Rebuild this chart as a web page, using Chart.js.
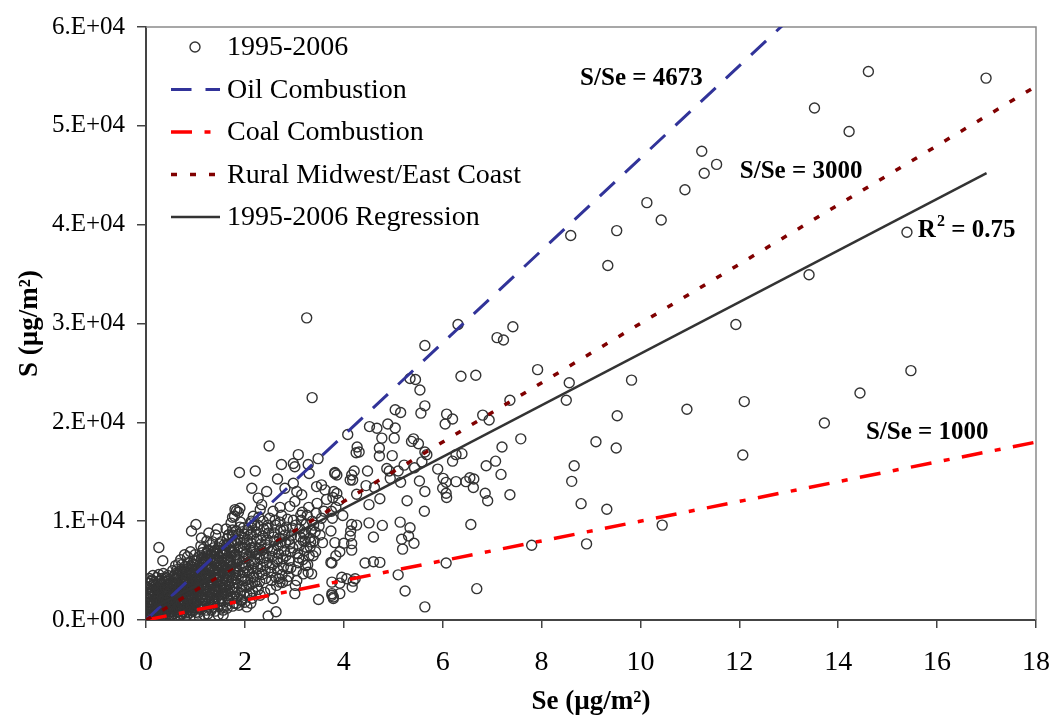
<!DOCTYPE html>
<html>
<head>
<meta charset="utf-8">
<script src="https://cdn.jsdelivr.net/npm/chart.js@4.4.0/dist/chart.umd.min.js"></script>
<style>
  html, body { margin: 0; padding: 0; background: #fff; }
  #wrap { width: 1055px; height: 721px; }
</style>
</head>
<body>
<div id="wrap"><canvas id="chart" width="1055" height="721"></canvas></div>
<script>
// S vs Se deposition, 1995-2006 samples with source ratio lines

const seriesNames = ['1995-2006', 'Oil Combustion', 'Coal Combustion', 'Rural Midwest/East Coast', '1995-2006 Regression'];

// S/Se ratios of the reference sources
const oilRatio = 4673;
const coalRatio = 1000;
const ruralRatio = 3000;

// least squares fit of the samples
const regSlope = 2610;
const regIntercept = 850;
const regRange = [0, 17];
const rSquared = 0.75;

const xTicks = [0, 2, 4, 6, 8, 10, 12, 14, 16, 18];
const yTickLabels = ['0.E+00', '1.E+04', '2.E+04', '3.E+04', '4.E+04', '5.E+04', '6.E+04'];

// dense low end of the sample cloud (Se, S)
const clusterPts = [
  [0.02,150],[0.03,600],[0.05,1100],[0.04,1800],[0.06,2600],[0.03,3300],[0.08,400],[0.1,900],[0.12,1500],[0.09,2100],
  [0.13,3000],[0.11,3900],[0.15,200],[0.17,700],[0.19,1300],[0.16,2400],[0.2,3500],[0.22,4300],[0.24,500],[0.26,1000],
  [0.25,1700],[0.28,2200],[0.27,2900],[0.3,3700],[0.32,4200],[0.33,300],[0.35,800],[0.36,1400],[0.38,1900],[0.37,2600],
  [0.4,3100],[0.42,3900],[0.44,4500],[0.45,600],[0.47,1200],[0.46,1600],[0.48,2100],[0.5,2700],[0.49,3400],[0.07,4200],
  [0.14,4500],[0.02,2200],[0.01,900],[0.18,3200],[0.21,2000],[0.29,1200],[0.31,600],[0.41,2300],[0.43,1000],[0.39,4200],
  [0.12,2700],[0.23,2600],[0.06,3700],
  [0.52,500],[0.55,1000],[0.53,1500],[0.56,2000],[0.54,2500],[0.57,3000],[0.55,3600],[0.58,4100],[0.6,4700],[0.62,800],
  [0.61,1300],[0.64,1800],[0.63,2300],[0.66,2800],[0.65,3300],[0.68,3800],[0.67,4400],[0.7,5000],[0.72,600],[0.71,1100],
  [0.74,1600],[0.73,2100],[0.76,2600],[0.75,3100],[0.78,3600],[0.77,4200],[0.8,4800],[0.79,5400],[0.82,400],[0.84,900],
  [0.83,1400],[0.86,1900],[0.85,2400],[0.88,2900],[0.87,3400],[0.9,3900],[0.89,4500],[0.92,5100],[0.94,5700],[0.91,1000],
  [0.95,1600],[0.93,2200],[0.97,2700],[0.96,3200],[0.99,3700],[0.98,4300],[1.0,4900],[0.99,5500],[0.6,5500],[0.7,6100],
  [0.84,6400],[0.65,300],[0.78,200],[0.88,700],[0.58,2700],[0.69,1900],[0.81,3000],[0.94,3500],[0.62,3500],[0.74,4600],
  [0.86,5200],[0.97,6000],
  [1.02,800],[1.04,1400],[1.03,2000],[1.06,2600],[1.05,3200],[1.08,3800],[1.07,4400],[1.1,5000],[1.09,5600],[1.12,6200],
  [1.14,6800],[1.13,1100],[1.16,1700],[1.15,2300],[1.18,2900],[1.17,3500],[1.2,4100],[1.19,4700],[1.22,5300],[1.21,5900],
  [1.24,6500],[1.26,7100],[1.25,600],[1.28,1300],[1.27,1900],[1.3,2500],[1.29,3100],[1.32,3700],[1.31,4300],[1.34,4900],
  [1.33,5500],[1.36,6100],[1.38,6700],[1.37,7300],[1.4,900],[1.39,1600],[1.42,2200],[1.41,2800],[1.44,3400],[1.43,4000],
  [1.46,4600],[1.45,5200],[1.48,5800],[1.47,6400],[1.5,7000],[1.49,7700],[1.11,7500],[1.23,8000],[1.35,7900],[1.08,300],
  [1.18,500],[1.32,1000],[1.2,2600],[1.06,5300],[1.28,4500],[1.44,6000],[1.15,5800],[1.38,2000],[1.25,3600],[1.02,6000],
  [1.48,3000],
  [1.52,1200],[1.54,1900],[1.53,2600],[1.56,3300],[1.55,4000],[1.58,4700],[1.57,5400],[1.6,6100],[1.59,6800],[1.62,7500],
  [1.64,8200],[1.63,1500],[1.66,2200],[1.65,2900],[1.68,3600],[1.67,4300],[1.7,5000],[1.69,5700],[1.72,6400],[1.71,7100],
  [1.74,7800],[1.76,8500],[1.75,9100],[1.78,1700],[1.77,2400],[1.8,3100],[1.79,3800],[1.82,4500],[1.81,5200],[1.84,5900],
  [1.83,6600],[1.86,7300],[1.85,8000],[1.88,8700],[1.9,9400],[1.92,2000],[1.91,2700],[1.94,3400],[1.93,4100],[1.96,4800],
  [1.95,5500],[1.98,6200],[1.97,6900],[2.0,7600],[1.99,8300],[1.67,8600],[1.56,500],[1.62,9200],[1.72,9800],
  [2.04,2600],[2.03,3300],[2.06,4100],[2.05,4900],[2.08,5600],[2.07,6300],[2.1,7100],[2.12,7800],[2.11,8600],[2.14,9300],
  [2.13,10000],[2.16,2900],[2.15,3700],[2.18,4400],[2.17,5200],[2.2,5900],[2.22,6700],[2.21,7400],[2.24,8200],[2.23,8900],
  [2.26,9600],[2.28,10400],[2.27,3100],[2.3,3900],[2.29,4700],[2.32,5400],[2.31,6200],[2.34,7000],[2.33,7700],[2.36,8500],
  [2.38,9200],[2.37,10000],[2.4,2800],[2.42,4200],[2.41,5000],[2.44,5800],[2.43,6500],[2.46,7300],[2.45,8100],[2.48,8800],
  [2.47,9600],[2.5,10300],
  [2.52,3100],[2.54,4000],[2.53,4800],[2.56,5600],[2.55,6400],[2.58,7200],[2.6,8000],[2.59,8800],[2.62,9600],[2.64,3500],
  [2.63,4300],[2.66,5100],[2.65,5900],[2.68,6700],[2.67,7500],[2.7,8300],[2.72,9100],[2.71,9900],[2.74,10600],[2.76,3800],
  [2.75,4600],[2.78,5400],[2.77,6200],[2.8,7000],[2.82,7800],[2.81,8600],[2.84,9400],[2.86,10200],[2.88,4400],[2.87,5200],
  [2.9,6000],[2.92,6900],[2.91,7700],[2.94,8500],[2.96,9300],[2.98,10100],
  [3.02,3500],[3.04,5000],[3.08,5800],[3.07,6700],[3.1,7500],[3.12,8400],[3.11,9200],[3.14,10100],[3.16,10900],[3.17,6100],
  [3.2,7000],[3.22,8000],[3.21,8800],[3.24,9700],[3.26,10600],[3.27,5600],[3.3,6500],[3.32,7400],[3.31,8300],[3.34,9100],
  [3.36,10000],[3.4,8000],[3.42,8900],[3.44,10800],[3.46,11800],[3.5,9500],[3.6,11000],[3.65,12200],[3.55,10300],
  [3.75,11000],[3.77,10300],[3.74,9000],[3.78,12400],[3.9,12100],[3.86,12800],[3.8,13000],[3.84,11400]
];

// more samples filling the same cloud
const clusterPts2 = [
  [0.04,500],[0.07,1400],[0.09,2900],[0.11,350],[0.14,1150],[0.16,1900],[0.18,2700],[0.2,800],[0.21,1550],[0.23,3050],
  [0.25,3900],[0.27,650],[0.29,1750],[0.3,2500],[0.31,3350],[0.33,1050],[0.34,2050],[0.36,3000],[0.37,3850],[0.39,700],
  [0.4,1450],[0.41,2750],[0.43,3500],[0.45,2300],[0.46,4100],[0.48,850],[0.49,1850],[0.5,3050],[0.03,2650],[0.08,3400],
  [0.12,4050],[0.17,3800],[0.22,2250],[0.26,4600],[0.35,4700],[0.44,1300],[0.47,3700],[0.1,1800],[0.19,900],[0.32,2800],
  [0.51,1250],[0.53,2250],[0.55,3300],[0.56,4400],[0.57,650],[0.59,1600],[0.6,2450],[0.61,3850],[0.63,5100],[0.64,1050],
  [0.66,2050],[0.67,3050],[0.68,4900],[0.7,1450],[0.71,2400],[0.72,3450],[0.73,5600],[0.75,850],[0.76,1850],[0.77,2950],
  [0.79,3900],[0.8,1250],[0.81,2250],[0.82,3500],[0.83,4550],[0.85,5800],[0.86,1500],[0.87,2600],[0.88,3700],[0.9,4800],
  [0.91,2050],[0.92,3000],[0.93,4050],[0.95,5300],[0.96,1250],[0.97,2350],[0.98,3400],[1.0,4500],[0.54,5000],[0.66,5700],
  [0.78,6600],[0.9,6900],[0.99,6600],[0.58,300],[0.69,450],[0.8,700],[0.95,900],[0.62,4300],[0.74,3300],[0.89,1700],
  [1.01,1700],[1.03,2800],[1.04,3900],[1.06,4900],[1.07,6400],[1.09,1100],[1.1,2300],[1.11,3400],[1.13,4500],[1.14,5600],
  [1.16,7200],[1.17,1400],[1.19,2100],[1.21,3200],[1.22,4300],[1.23,6800],[1.25,2300],[1.26,4000],[1.27,5100],[1.29,6200],
  [1.3,7600],[1.31,1600],[1.33,2800],[1.34,3900],[1.36,5000],[1.37,5800],[1.39,7000],[1.4,3100],[1.42,4300],[1.43,5500],
  [1.45,6700],[1.46,2500],[1.48,3800],[1.49,5000],[1.51,6300],[1.52,7900],[1.53,2200],[1.55,3600],[1.56,4900],[1.58,6000],
  [1.59,7200],[1.12,8300],[1.27,8800],[1.44,9200],[1.05,700],[1.22,1000],[1.35,1300],[1.5,1600],[1.19,6000],[1.41,4700],
  [1.61,2700],[1.62,4000],[1.63,5100],[1.65,6300],[1.66,7700],[1.68,2000],[1.69,3300],[1.7,4600],[1.72,5800],[1.73,7000],
  [1.74,8600],[1.76,2800],[1.77,4100],[1.78,5300],[1.8,6600],[1.81,7800],[1.82,9000],[1.84,2300],[1.85,3700],[1.86,4900],
  [1.87,6100],[1.89,7400],[1.9,8100],[1.91,9900],[1.93,3000],[1.94,4400],[1.95,5800],[1.97,7300],[1.98,8700],[1.99,2500],
  [2.01,4000],[2.02,5300],[2.03,6700],[2.05,8100],[2.06,9100],[2.08,3500],[2.09,4800],[2.11,6000],[2.12,7300],[2.13,8700],
  [2.15,2200],[2.16,4300],[2.18,5700],[2.19,7100],[2.2,9600],[1.64,1200],[1.75,1400],[1.88,1500],[2.0,1800],[2.12,1700],
  [2.24,3400],[2.26,5200],[2.29,6600],[2.32,8100],[2.35,4600],[2.39,6300],[2.42,7600],[2.45,9300],[2.51,5300],[2.55,7000],
  [2.58,8400],[2.61,10100],[2.66,6200],[2.69,4200],[2.73,7900],[2.79,9100],[2.83,6500],[2.89,8100],[2.93,5300],[2.97,7300],
  [3.03,9600],[3.09,6300],[3.13,10600],[3.19,8700],[3.23,5500],[3.29,11400],[3.33,7900],[3.39,9600],[3.43,6900],[3.52,8600]
];

// densest part of the cloud, Se below 2
const clusterPts3 = [
  [0.05,300],[0.06,1350],[0.08,2400],[0.1,3100],[0.13,650],[0.15,1650],[0.16,3550],[0.18,1100],[0.2,2200],[0.22,950],
  [0.24,2400],[0.24,3300],[0.27,1450],[0.28,4000],[0.3,900],[0.31,1900],[0.33,2400],[0.34,3600],[0.36,500],[0.38,1200],
  [0.39,3300],[0.41,1800],[0.42,4300],[0.44,2600],[0.45,3200],[0.47,450],[0.49,1400],[0.5,2250],[0.52,3800],[0.53,900],
  [0.55,1800],[0.57,2600],[0.58,3500],[0.6,1000],[0.61,2000],[0.63,2800],[0.64,4600],[0.66,1300],[0.67,2400],[0.69,3400],
  [0.7,4200],[0.72,1700],[0.73,2900],[0.75,3800],[0.76,5000],[0.78,1100],[0.79,2300],[0.8,3300],[0.82,4200],[0.83,5200],
  [0.85,1200],[0.86,2200],[0.88,3200],[0.89,4100],[0.91,5400],[0.92,1400],[0.94,2500],[0.95,3700],[0.97,4700],[0.98,1900],
  [1.0,3000],[1.01,4000],[1.03,5100],[1.04,6200],[1.06,1900],[1.07,3000],[1.09,4100],[1.1,5300],[1.12,1600],[1.13,2600],
  [1.15,3700],[1.16,4900],[1.18,6300],[1.19,3300],[1.21,2000],[1.22,4500],[1.24,5600],[1.25,7000],[1.27,2800],[1.28,3800],
  [1.3,5200],[1.31,6600],[1.33,2100],[1.34,3300],[1.36,4300],[1.37,6900],[1.39,2600],[1.4,5000],[1.42,6200],[1.43,3000],
  [1.45,4100],[1.46,7300],[1.48,2000],[1.49,4400],[1.51,5500],[1.52,3200],[1.54,6700],[1.55,2700],[1.57,4200],[1.58,7600],
  [1.6,3500],[1.61,5300],[1.63,6800],[1.64,2500],[1.66,4800],[1.67,6000],[1.69,7400],[1.7,2600],[1.72,4000],[1.73,5500],
  [1.75,6900],[1.77,3300],[1.78,8000],[1.8,4800],[1.82,6100]
];

// scattered samples away from the dense cloud (Se, S)
const spreadPts = [
  [0.26,7330],[0.34,6000],[0.92,9000],[1.01,9670],[1.41,8600],[1.67,8600],[1.46,500],[1.56,1000],[1.83,1670],[1.94,2000],
  [2.04,1330],[1.80,11170],[1.87,10900],[1.79,10500],[1.75,10400],[1.90,11300],[1.83,11050],[1.97,9330],[2.14,9830],[2.17,10500],
  [1.89,14930],[2.21,15070],[2.14,13330],[2.44,13000],[2.27,12330],[2.34,11670],[2.31,11170],[2.49,17600],[2.57,11000],[2.71,11400],
  [2.91,11500],[3.01,12000],[2.66,14270],[2.81,13330],[2.98,13830],[3.05,13000],[3.15,12670],[2.74,15730],[2.98,15830],[3.01,15500],
  [3.08,16730],[3.28,15730],[3.48,16330],[3.30,14830],[3.45,13500],[3.55,13670],[3.62,13170],[3.82,14830],[3.86,14670],[3.36,22500],
  [3.25,30570],[2.20,3830],[2.10,2670],[2.31,2500],[2.47,400],[2.63,830],[2.57,2170],[2.71,3830],[2.85,4000],[3.01,2670],
  [3.05,4000],[3.18,4670],[3.28,4830],[3.35,4670],[3.49,2070],[3.76,2670],[3.79,2330],[3.18,8000],[3.25,7330],[3.38,6500],
  [3.57,7830],[3.74,5830],[3.84,6500],
  [5.54,23270],[5.64,21670],[5.56,20930],[5.04,21270],[5.15,21000],[4.89,19830],[5.04,19430],[4.52,19570],[4.67,19400],[4.08,18770],
  [4.77,18400],[5.02,18400],[5.41,18330],[5.37,18070],[5.51,17830],[4.72,17400],[4.27,17500],[4.31,17000],[4.25,16930],[4.72,16600],
  [4.98,16630],[5.64,17000],[5.68,16730],[5.58,16000],[5.22,15670],[4.87,15330],[4.92,15070],[5.10,15070],[5.43,15400],[4.48,15070],
  [3.82,14930],[4.21,15070],[4.16,14670],[4.13,14170],[4.18,14170],[4.94,14330],[5.15,13930],[5.53,14070],[5.64,13000],[4.62,13400],
  [4.45,13600],[4.26,12730],[4.73,12270],[4.51,11670],[5.28,12070],[5.63,11000],[3.98,10570],[5.90,15270],[6.01,14330],[6.07,13930],
  [6.00,13330],[6.07,12830],[6.08,12400],[6.27,14000],[6.08,20830],[6.05,19830],[6.20,20330],[6.27,16730],[6.39,16830],[6.20,16070],
  [6.47,14000],[6.55,14400],[6.63,14270],[6.62,13400],[6.81,20730],[6.94,20230],[7.36,22230],[7.20,17500],[7.07,16070],[6.88,15600],
  [7.18,14730],[7.58,18330],[6.86,12830],[6.91,12070],[7.36,12670],[6.57,9670],[7.80,7570],[6.07,5770],[6.69,3170],[5.64,1330],
  [5.24,2930],[5.10,4570],[5.14,9900],[5.34,9330],[5.31,8500],[5.17,8170],[5.19,7170],[5.42,7770],[4.78,9570],[4.51,9830],
  [4.60,8400],[4.16,9670],[4.26,9600],[4.14,9000],[4.13,8500],[4.00,7770],[4.16,7730],[3.82,7830],[3.92,6900],[4.16,7070],
  [4.43,5770],[4.60,5900],[4.73,5830],[3.76,5770],[3.96,4330],[4.06,4170],[4.23,4170],[4.19,3930],[4.17,3330],[3.92,3730],
  [3.76,3830],[3.92,2670],[3.76,2500],[3.79,2170],
  [6.31,29900],[5.64,27770],[7.10,28570],[7.23,28330],[7.42,29670],[5.34,24430],[5.45,24330],[6.37,24670],[6.67,24770],[7.92,25330],
  [8.56,24000],[8.50,22230],[9.82,24270],[9.53,20670],[10.94,21330],[11.93,29900],[12.10,22100],[12.07,16700],[9.10,18030],[9.51,17400],
  [8.66,15600],[8.61,14030],[8.80,11770],[9.32,11200],[10.44,9600],[8.91,7700],
  [11.24,47430],[11.54,46100],[11.29,45200],[10.90,43530],[10.13,42230],[10.42,40470],[9.52,39400],[8.59,38900],[9.34,35870],
  [14.61,55500],[16.99,54830],[13.52,51800],[14.22,49430],[15.39,39230],[13.41,34930],[15.47,25230],[14.44,22970],[13.72,19930]
];

// text placed on the plot, anchored at data coordinates (left, middle)
const notes = [
  { text: 'S/Se = ' + oilRatio, x: 8.78, y: 54800 },
  { text: 'S/Se = ' + ruralRatio, x: 12.01, y: 45400 },
  { text: 'S/Se = ' + coalRatio, x: 14.56, y: 19000 }
];
const r2Note = { x: 15.61, y: 39400 };

const FONT = '"Liberation Serif", "Times New Roman", serif';
Chart.defaults.font.family = FONT;
Chart.defaults.color = '#000';

function ratioLine(r) {
  return [{ x: 0, y: 0 }, { x: 18, y: r * 18 }];
}

const samples = clusterPts.concat(clusterPts2, clusterPts3, spreadPts).map(p => ({ x: p[0], y: p[1] }));

// legend drawn in the upper left corner of the plot
const legendBox = {
  id: 'legendBox',
  afterDraw(chart) {
    const ctx = chart.ctx;
    chart.data.datasets.forEach((ds, i) => {
      const y = 47 + i * 42.5;
      ctx.save();
      if (ds.showLine) {
        ctx.strokeStyle = ds.borderColor;
        ctx.lineWidth = ds.borderWidth;
        ctx.setLineDash(ds.borderDash || []);
        ctx.beginPath();
        ctx.moveTo(171, y);
        ctx.lineTo(220, y);
        ctx.stroke();
      } else {
        ctx.strokeStyle = ds.pointBorderColor;
        ctx.lineWidth = ds.pointBorderWidth;
        ctx.beginPath();
        ctx.arc(195, y, ds.pointRadius, 0, Math.PI * 2);
        ctx.stroke();
      }
      ctx.fillStyle = '#000';
      ctx.font = '28px ' + FONT;
      ctx.textBaseline = 'middle';
      ctx.fillText(ds.label, 227, y + 1);
      ctx.restore();
    });
  }
};

// gray frame on top/right, ratio labels and R²
const plotExtras = {
  id: 'plotExtras',
  beforeDatasetsDraw(chart) {
    const { ctx, chartArea: a } = chart;
    ctx.save();
    ctx.strokeStyle = '#8a8a8a';
    ctx.lineWidth = 1.5;
    ctx.beginPath();
    ctx.moveTo(a.left, a.top);
    ctx.lineTo(a.right, a.top);
    ctx.lineTo(a.right, a.bottom);
    ctx.stroke();
    ctx.restore();
  },
  afterDatasetsDraw(chart) {
    const { ctx, scales } = chart;
    ctx.save();
    ctx.fillStyle = '#000';
    ctx.textBaseline = 'middle';
    ctx.font = 'bold 25px ' + FONT;
    notes.forEach(n => {
      ctx.fillText(n.text, scales.x.getPixelForValue(n.x), scales.y.getPixelForValue(n.y));
    });
    let px = scales.x.getPixelForValue(r2Note.x);
    const py = scales.y.getPixelForValue(r2Note.y);
    ctx.fillText('R', px, py);
    px += ctx.measureText('R').width;
    ctx.font = 'bold 16px ' + FONT;
    ctx.fillText('2', px + 1, py - 9);
    px += ctx.measureText('2').width + 1;
    ctx.font = 'bold 25px ' + FONT;
    ctx.fillText(' = ' + rSquared.toFixed(2), px, py);
    ctx.restore();
  }
};

new Chart(document.getElementById('chart'), {
  type: 'scatter',
  data: {
    datasets: [
      {
        label: seriesNames[0],
        data: samples,
        pointStyle: 'circle',
        pointRadius: 5,
        pointBorderWidth: 1.4,
        pointBorderColor: '#333333',
        pointBackgroundColor: 'rgba(0,0,0,0)',
        order: 9
      },
      {
        label: seriesNames[1],
        data: ratioLine(oilRatio),
        showLine: true,
        pointRadius: 0,
        borderColor: '#313399',
        borderWidth: 3,
        borderDash: [20.5, 14],
        order: 4
      },
      {
        label: seriesNames[2],
        data: ratioLine(coalRatio),
        showLine: true,
        pointRadius: 0,
        borderColor: '#ff0000',
        borderWidth: 3.5,
        borderDash: [21, 12.5, 6, 12.5],
        order: 3
      },
      {
        label: seriesNames[3],
        data: ratioLine(ruralRatio),
        showLine: true,
        pointRadius: 0,
        borderColor: '#800000',
        borderWidth: 3.5,
        borderDash: [6, 13],
        order: 2
      },
      {
        label: seriesNames[4],
        data: regRange.map(x => ({ x: x, y: regSlope * x + regIntercept })),
        showLine: true,
        pointRadius: 0,
        borderColor: '#333333',
        borderWidth: 2.5,
        order: 1
      }
    ]
  },
  options: {
    responsive: false,
    animation: false,
    events: [],
    layout: { padding: { left: 0, right: 19, top: 20, bottom: 0 } },
    plugins: { legend: { display: false }, tooltip: { enabled: false } },
    scales: {
      x: {
        type: 'linear',
        min: 0,
        max: 18,
        // fixed band below the plot; the "18" label may run into the right margin
        afterFit: s => { s.height = 101; s.paddingLeft = 0; s.paddingRight = 0; },
        afterBuildTicks: s => { s.ticks = xTicks.map(v => ({ value: v })); },
        border: { display: true, color: '#444', width: 2 },
        grid: { display: true, drawOnChartArea: false, drawTicks: true, tickLength: 8, color: '#444', lineWidth: 1.5 },
        ticks: { font: { size: 28 }, color: '#000', padding: 18, maxRotation: 0 },
        title: { display: true, text: 'Se (µg/m²)', font: { size: 27, weight: 'bold' }, color: '#000', padding: { top: 0, bottom: 3 } }
      },
      y: {
        type: 'linear',
        min: 0,
        max: 60000,
        afterFit: s => { s.width = 146; },
        ticks: {
          stepSize: 10000,
          font: { size: 25 },
          color: '#000',
          padding: 12,
          callback: (v, i) => yTickLabels[i]
        },
        border: { display: true, color: '#444', width: 2 },
        grid: { display: true, drawOnChartArea: false, drawTicks: true, tickLength: 9, color: '#444', lineWidth: 1.5 },
        title: { display: true, text: 'S (µg/m²)', font: { size: 27, weight: 'bold' }, color: '#000', padding: { top: 14, bottom: 0 } }
      }
    }
  },
  plugins: [legendBox, plotExtras]
});
</script>
</body>
</html>
